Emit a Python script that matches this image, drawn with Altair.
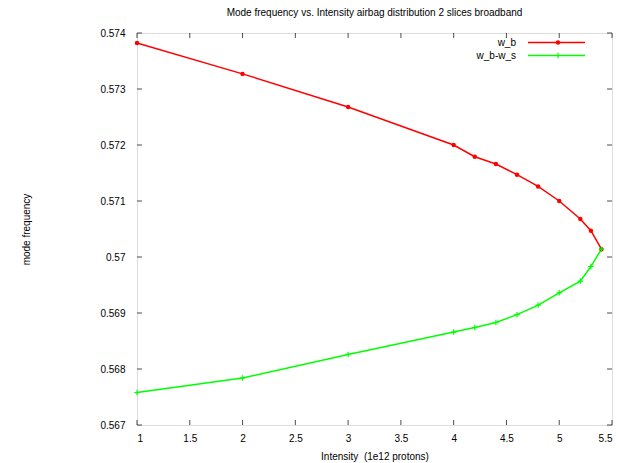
import altair as alt
import pandas as pd

# Data
wb_x = [1, 2, 3, 4, 4.2, 4.4, 4.6, 4.8, 5.0, 5.2, 5.3, 5.4]
wb_y = [0.57382, 0.57327, 0.57268, 0.57200, 0.57179, 0.57166, 0.57147, 0.57126, 0.57100, 0.57068, 0.57047, 0.57014]
ws_x = [1, 2, 3, 4, 4.2, 4.4, 4.6, 4.8, 5.0, 5.2, 5.3, 5.4]
ws_y = [0.56758, 0.56784, 0.56826, 0.56866, 0.56874, 0.56883, 0.56897, 0.56914, 0.56936, 0.56957, 0.56983, 0.57014]
x_ticks = [1, 1.5, 2, 2.5, 3, 3.5, 4, 4.5, 5, 5.5]
y_ticks = [0.567, 0.568, 0.569, 0.570, 0.571, 0.572, 0.573, 0.574]
series_names = ["w_b", "w_b-w_s"]
series_colors = ["#ff0000", "#00ff00"]

W, H = 475, 392
FONT = "Liberation Sans"

df = pd.concat([
    pd.DataFrame({"x": wb_x, "y": wb_y, "s": series_names[0]}),
    pd.DataFrame({"x": ws_x, "y": ws_y, "s": series_names[1]}),
])

xs = alt.Scale(domain=[1, 5.5], nice=False, zero=False)
ys = alt.Scale(domain=[0.567, 0.574], nice=False, zero=False)
cs = alt.Scale(domain=series_names, range=series_colors)

xaxis = alt.Axis(values=x_ticks, format="~g", grid=False, ticks=False, domain=False,
                 labelFont=FONT, labelFontSize=10, labelColor="#000", labelPadding=8,
                 title="Intensity\u00a0\u00a0(1e12 protons)", titleFont=FONT, titleFontSize=10,
                 titleFontWeight="normal", titleColor="#000", titlePadding=8)
yaxis = alt.Axis(values=y_ticks, format="~g", grid=False, ticks=False, domain=False,
                 labelFont=FONT, labelFontSize=10, labelColor="#000", labelPadding=12,
                 title="mode frequency", titleFont=FONT, titleFontSize=10,
                 titleFontWeight="normal", titleColor="#000", titlePadding=68)

lines = alt.Chart(df).mark_line(strokeWidth=1.5).encode(
    x=alt.X("x:Q", scale=xs, axis=xaxis),
    y=alt.Y("y:Q", scale=ys, axis=yaxis),
    color=alt.Color("s:N", scale=cs, legend=None),
    order=alt.Order("x:Q"),
)

red_pts = alt.Chart(df[df.s == series_names[0]]).mark_point(
    filled=True, shape="circle", size=20, color=series_colors[0], opacity=1
).encode(x=alt.X("x:Q", scale=xs), y=alt.Y("y:Q", scale=ys))

plus = "M-1,0L1,0M0,-1L0,1"
green_pts = alt.Chart(df[df.s == series_names[1]]).mark_point(
    filled=False, shape=plus, size=30, color=series_colors[1], strokeWidth=1.2, opacity=1
).encode(x=alt.X("x:Q", scale=xs), y=alt.Y("y:Q", scale=ys))

# inward ticks on all four sides (gnuplot style mirror ticks)
xt = pd.DataFrame({"x": x_ticks})
yt = pd.DataFrame({"y": y_ticks})
tick_col = "#000"
xb = alt.Chart(xt).mark_tick(orient="vertical", size=5, thickness=1, color=tick_col).encode(
    x=alt.X("x:Q", scale=xs), y=alt.value(H - 2.5))
xtop = alt.Chart(xt).mark_tick(orient="vertical", size=5, thickness=1, color=tick_col).encode(
    x=alt.X("x:Q", scale=xs), y=alt.value(2.5))
yl = alt.Chart(yt).mark_tick(orient="horizontal", size=5, thickness=1, color=tick_col).encode(
    y=alt.Y("y:Q", scale=ys), x=alt.value(2.5))
yr = alt.Chart(yt).mark_tick(orient="horizontal", size=5, thickness=1, color=tick_col).encode(
    y=alt.Y("y:Q", scale=ys), x=alt.value(W - 2.5))

# manual gnuplot-style legend (label left of sample)
leg_layers = []
row_y = [9.5, 22.5]
for i, name in enumerate(series_names):
    ld = pd.DataFrame({"s": [name]})
    leg_layers.append(alt.Chart(ld).mark_rule(strokeWidth=1.5, color=series_colors[i]).encode(
        x=alt.value(391), x2=alt.value(448), y=alt.value(row_y[i])))
    leg_layers.append(alt.Chart(ld).mark_text(align="right", baseline="middle", font=FONT,
                                              fontSize=10, color="#000").encode(
        x=alt.value(379), y=alt.value(row_y[i]), text="s:N"))
    if i == 0:
        leg_layers.append(alt.Chart(ld).mark_point(filled=True, shape="circle", size=20,
                                                   color=series_colors[i], opacity=1).encode(
            x=alt.value(421), y=alt.value(row_y[i])))
    else:
        leg_layers.append(alt.Chart(ld).mark_point(filled=False, shape=plus, size=30,
                                                   color=series_colors[i], strokeWidth=1.2,
                                                   opacity=1).encode(
            x=alt.value(421), y=alt.value(row_y[i])))

chart = alt.layer(lines, red_pts, green_pts, xb, xtop, yl, yr, *leg_layers).properties(
    width=W, height=H,
    title=alt.Title("Mode frequency vs. Intensity airbag distribution 2 slices broadband",
                    font=FONT, fontSize=10, fontWeight="normal", color="#000",
                    anchor="middle", offset=10),
    autosize=alt.AutoSizeParams(type="none"),
    padding={"left": 137, "top": 33, "right": 8, "bottom": 38},
).configure_view(stroke="#000", strokeWidth=1.2).configure(background="white")

chart.save("out.html", embed_options={"renderer": "svg", "actions": False})
